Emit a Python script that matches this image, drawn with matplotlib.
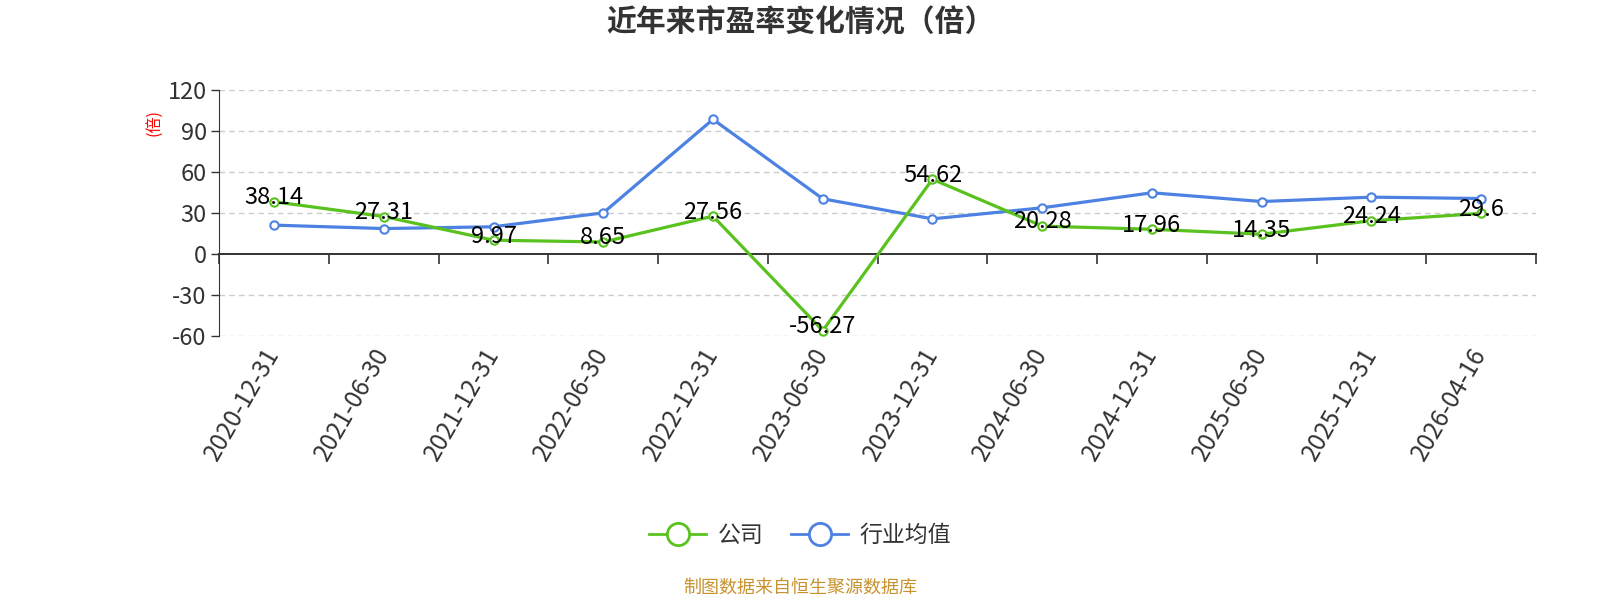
import numpy as np
import matplotlib
matplotlib.use("Agg")
import matplotlib.pyplot as plt
from matplotlib.lines import Line2D

plt.rcParams['font.family'] = ['Noto Sans CJK SC', 'DejaVu Sans']

dates = ["2020-12-31", "2021-06-30", "2021-12-31", "2022-06-30", "2022-12-31", "2023-06-30",
         "2023-12-31", "2024-06-30", "2024-12-31", "2025-06-30", "2025-12-31", "2026-04-16"]
company = [38.14, 27.31, 9.97, 8.65, 27.56, -56.27, 54.62, 20.28, 17.96, 14.35, 24.24, 29.6]
industry = [21.0, 18.5, 19.8, 30.0, 98.5, 40.3, 25.6, 33.7, 44.7, 38.3, 41.5, 40.5]
yticks = [-60, -30, 0, 30, 60, 90, 120]

GREEN = "#5ac21e"
BLUE = "#4d82e2"
AXC = "#333333"

fig = plt.figure(figsize=(16, 6), dpi=100)
ax = fig.add_axes([0.137, 0.4405, 0.823, 0.4095])
x = np.arange(len(dates))

ax.plot(x, industry, color=BLUE, lw=2.3, marker="o", ms=6, mfc="white", mec=BLUE, mew=1.5, zorder=3)
ax.plot(x, company, color=GREEN, lw=2.3, marker="o", ms=6, mfc="white", mec=GREEN, mew=1.5, zorder=4)
for xi, v in zip(x, company):
    ax.annotate(f"{v:g}", (xi, v), xytext=(0, 3), textcoords="offset points",
                ha="center", va="center", fontsize=17, color="black", zorder=5)

ax.set_xlim(-0.5, len(dates) - 0.5)
ax.set_ylim(-60, 120)
ax.set_yticks(yticks)
ax.set_yticklabels([str(t) for t in yticks], fontsize=17, color=AXC)
ax.tick_params(axis="y", length=6, width=1, color=AXC, pad=3)
for t in yticks:
    if t != 0:
        ax.axhline(t, color="#cccccc", lw=1, ls=(0, (4, 3)), zorder=1)

# category labels along the bottom
ax.set_xticks(x)
ax.set_xticklabels(dates, rotation=60, ha="right", va="center", rotation_mode="anchor",
                   fontsize=17.5, color=AXC)
ax.tick_params(axis="x", length=0, pad=10)

for s in ["top", "right", "bottom"]:
    ax.spines[s].set_visible(False)
ax.spines["left"].set_color(AXC)

# axis line at zero with boundary ticks
sec = ax.secondary_xaxis(1 / 3)
sec.set_xticks(np.arange(len(dates) + 1) - 0.5)
sec.set_xticklabels([])
sec.tick_params(axis="x", length=7, width=1.2, color=AXC, direction="out")
sec.spines["bottom"].set_color(AXC)
sec.spines["bottom"].set_linewidth(1.4)

fig.text(0.097, 0.795, "(倍)", color="red", fontsize=11.5, rotation=90, ha="center", va="center")
fig.text(0.50, 0.962, "近年来市盈率变化情况（倍）", fontsize=21.5, fontweight="bold",
         color=AXC, ha="center", va="center")

handles = [Line2D([], [], color=GREEN, lw=2, marker="o", ms=16, mfc="white", mec=GREEN, mew=2),
           Line2D([], [], color=BLUE, lw=2, marker="o", ms=16, mfc="white", mec=BLUE, mew=2)]
fig.legend(handles, ["公司", "行业均值"], loc="center", bbox_to_anchor=(0.50, 0.107), ncol=2,
           frameon=False, fontsize=16.5, labelcolor=AXC, handlelength=2.5, columnspacing=1.2,
           handletextpad=0.5)

fig.text(0.50, 0.02, "制图数据来自恒生聚源数据库", fontsize=13, color="#c8922e",
         ha="center", va="center")

fig.savefig("out.png", dpi=100, facecolor="white")
